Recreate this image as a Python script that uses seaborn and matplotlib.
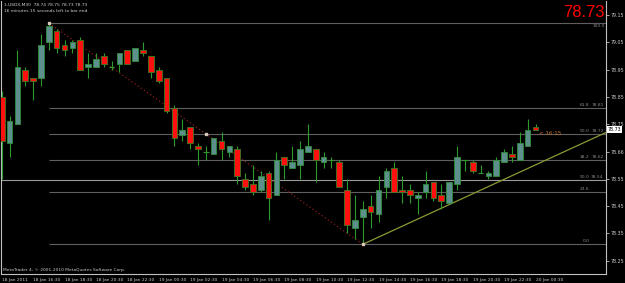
import numpy as np
import pandas as pd
import matplotlib
matplotlib.use("Agg")
import matplotlib.pyplot as plt
import matplotlib.transforms as mtransforms
import seaborn as sns

# ---------------- data ----------------
opens = [78.85, 78.68, 78.75, 78.95, 78.92, 78.92, 79.05, 79.09, 79.04, 79.03,
         79.06, 78.96, 78.96, 79.00, 78.96, 78.97, 79.02, 78.98, 79.02, 79.00,
         78.95, 78.92, 78.81, 78.71, 78.74, 78.67, 78.65, 78.64, 78.69, 78.65,
         78.66, 78.55, 78.53, 78.51, 78.57, 78.49, 78.63, 78.59, 78.60, 78.65,
         78.66, 78.61, 78.62, 78.61, 78.51, 78.37, 78.41, 78.45, 78.42, 78.52,
         78.59, 78.51, 78.51, 78.48, 78.50, 78.54, 78.49, 78.46, 78.53, 78.62,
         78.61, 78.57, 78.56, 78.56, 78.61, 78.64, 78.62, 78.67, 78.74]
highs = [78.87, 78.78, 79.02, 78.96, 78.92, 79.08, 79.12, 79.10, 79.06, 79.06,
         79.07, 79.01, 79.01, 79.01, 78.98, 79.01, 79.02, 79.03, 79.05, 79.00,
         78.96, 78.92, 78.82, 78.77, 78.74, 78.68, 78.67, 78.70, 78.72, 78.67,
         78.67, 78.57, 78.60, 78.58, 78.58, 78.65, 78.63, 78.67, 78.69, 78.75,
         78.66, 78.65, 78.63, 78.62, 78.55, 78.49, 78.47, 78.49, 78.56, 78.59,
         78.61, 78.56, 78.53, 78.50, 78.58, 78.54, 78.53, 78.54, 78.67, 78.62,
         78.62, 78.60, 78.58, 78.63, 78.66, 78.67, 78.72, 78.77, 78.75]
lows = [78.55, 78.63, 78.75, 78.89, 78.84, 78.89, 79.02, 79.01, 79.00, 79.01,
        78.95, 78.92, 78.96, 78.96, 78.95, 78.94, 78.97, 78.98, 79.00, 78.92,
        78.90, 78.79, 78.67, 78.69, 78.66, 78.60, 78.62, 78.64, 78.62, 78.63,
        78.53, 78.51, 78.49, 78.50, 78.40, 78.49, 78.55, 78.59, 78.55, 78.65,
        78.54, 78.59, 78.59, 78.52, 78.35, 78.33, 78.31, 78.37, 78.39, 78.48,
        78.50, 78.46, 78.46, 78.42, 78.48, 78.47, 78.44, 78.46, 78.51, 78.58,
        78.57, 78.57, 78.55, 78.56, 78.61, 78.61, 78.62, 78.67, 78.73]
closes = [78.69, 78.76, 78.96, 78.91, 78.91, 79.04, 79.11, 79.03, 79.02, 79.05,
          78.95, 78.97, 78.99, 78.97, 78.96, 79.01, 78.97, 79.03, 79.01, 78.94,
          78.91, 78.80, 78.70, 78.73, 78.68, 78.66, 78.65, 78.70, 78.66, 78.67,
          78.56, 78.52, 78.50, 78.56, 78.48, 78.62, 78.60, 78.61, 78.66, 78.67,
          78.62, 78.63, 78.62, 78.52, 78.38, 78.40, 78.44, 78.43, 78.51, 78.58,
          78.50, 78.50, 78.49, 78.49, 78.53, 78.48, 78.47, 78.54, 78.63, 78.62,
          78.58, 78.57, 78.57, 78.62, 78.65, 78.63, 78.68, 78.73, 78.73]

x_tick_labels = ["18 Jan 2011", "18 Jan 16:30", "18 Jan 18:30", "18 Jan 20:30",
                 "18 Jan 22:30", "19 Jan 00:30", "19 Jan 02:30", "19 Jan 04:30",
                 "19 Jan 06:30", "19 Jan 08:30", "19 Jan 10:30", "19 Jan 12:30",
                 "19 Jan 14:30", "19 Jan 16:30", "19 Jan 18:30", "19 Jan 20:30",
                 "19 Jan 22:30", "20 Jan 00:30"]
y_ticks = [79.15, 79.05, 78.95, 78.85, 78.75, 78.65, 78.55, 78.45, 78.35, 78.25]
y_tick_labels = ["79.15", "79.05", "78.95", "78.85", "78.75", "78.66",
                 "78.55", "78.45", "78.35", "78.25"]

fib_ratios = [0.0, 23.6, 38.2, 50.0, 61.8, 100.0]
fib_price_text = ["", "", "78.62", "78.72", "78.81", ""]
fib_high, fib_high_idx = 79.12, 6
fib_low, fib_low_idx = 78.31, 46
extra_level, extra_ratio_text, extra_price_text = 78.546, "50.0", "78.54"
trend_idx = [46, 77]
trend_price = [78.31, 78.72]
last_price = "78.73"
title_line1 = "1.USDX,M30  78.74 78.75 78.73 78.73"
title_line2 = "16 minutes 15 seconds left to bar end"
countdown = "< 16:15"
copyright_txt = "MetaTrader 4, \u00a9 2001-2010 MetaQuotes Software Corp."

# ---------------- style ----------------
sns.set_theme(style="dark", rc={
    "axes.facecolor": "black", "figure.facecolor": "black",
    "axes.edgecolor": "#c0c0c0", "axes.grid": False,
    "xtick.color": "#c0c0c0", "ytick.color": "#c0c0c0",
})
plt.rcParams["font.family"] = ["Liberation Sans Narrow", "DejaVu Sans"]

W, H = 625, 283
fig = plt.figure(figsize=(W / 100, H / 100), dpi=100)
ax = fig.add_axes([1 / W, 9 / H, 605 / W, 273 / H])
ax.set_facecolor("black")

df = pd.DataFrame({"idx": np.arange(len(opens)), "open": opens, "high": highs,
                   "low": lows, "close": closes})

wick_col = "#2c9a2c"
bull_face = "#5d8f8c"
bull_edge = "#2f8f3a"
bear_face = "#ff1010"
bear_edge = "#3d7a22"
bw = 0.72

# wicks
ax.vlines(df["idx"], df["low"], df["high"], color=wick_col, lw=0.8, zorder=3)
for _, r in df.iterrows():
    o, c = r["open"], r["close"]
    if abs(c - o) < 0.004:
        ax.hlines(o, r["idx"] - bw / 2, r["idx"] + bw / 2, color=wick_col, lw=0.8, zorder=4)
    elif c > o:
        ax.bar(r["idx"], c - o, bottom=o, width=bw, color=bull_face,
               edgecolor=bull_edge, linewidth=0.6, zorder=4)
    else:
        ax.bar(r["idx"], o - c, bottom=c, width=bw, color=bear_face,
               edgecolor=bear_edge, linewidth=0.6, zorder=4)

x0, x1 = -0.09, 76.98
ax.set_xlim(x0, x1)
ax.set_ylim(78.2013, 79.2013)

# fibonacci levels
blend = mtransforms.blended_transform_factory(ax.transAxes, ax.transData)
rng = fib_high - fib_low
fs_small = 3.2
for r, pt in zip(fib_ratios, fib_price_text):
    lvl = fib_low + r / 100 * rng
    ax.hlines(lvl, fib_high_idx, x1, color="#5f5f5f", lw=0.8, zorder=2)
    if r == 100.0:
        ax.text(0.998, lvl - 0.002, f"{r:.1f}", transform=blend, ha="right",
                va="top", fontsize=fs_small, color="#8a8a8a", zorder=5)
        continue
    ax.text(0.973, lvl + 0.004, f"{r:.1f}", transform=blend, ha="right",
            va="bottom", fontsize=fs_small, color="#8a8a8a", zorder=5)
    if pt:
        ax.text(0.996, lvl + 0.004, pt, transform=blend, ha="right",
                va="bottom", fontsize=fs_small, color="#8a8a8a", zorder=5)
ax.axhline(extra_level, color="#9a9a9a", lw=0.8, zorder=2)
ax.text(0.973, extra_level + 0.004, extra_ratio_text, transform=blend, ha="right",
        va="bottom", fontsize=fs_small, color="#8a8a8a", zorder=5)
ax.text(0.996, extra_level + 0.004, extra_price_text, transform=blend, ha="right",
        va="bottom", fontsize=fs_small, color="#8a8a8a", zorder=5)

# fib trend (dotted dark red) and anchors
ax.plot([fib_high_idx, fib_low_idx], [fib_high, fib_low], color="#8b1a1a",
        ls=(0, (1, 2)), lw=0.9, zorder=2)
ax.plot([fib_high_idx, (fib_high_idx + fib_low_idx) / 2, fib_low_idx],
        [fib_high, (fib_high + fib_low) / 2, fib_low], ls="none", marker="s",
        ms=1.6, color="#d8c8b8", zorder=6)

# trend line
sns.lineplot(x=trend_idx, y=trend_price, ax=ax, color="#8c9a34", lw=0.9, zorder=2)

# axes / ticks
ax.spines["top"].set_visible(False)
for s in ("left", "right", "bottom"):
    ax.spines[s].set_color("#c0c0c0")
    ax.spines[s].set_linewidth(0.8)
ax.yaxis.tick_right()
ax.set_yticks(y_ticks)
ax.set_yticklabels(y_tick_labels)
ax.set_xticks(np.arange(0, len(opens), 4))
ax.set_xticklabels(x_tick_labels)
for lbl in ax.get_xticklabels():
    lbl.set_ha("left")
ax.tick_params(axis="x", length=2, width=0.6, labelsize=3.15, labelcolor="#c8c8c8", pad=0.6)
ax.tick_params(axis="y", length=2, width=0.6, labelsize=3.4, labelcolor="#c8c8c8", pad=1.2)
ax.set_xlabel("")
ax.set_ylabel("")

# current price box
ax.text(1.003, float(last_price), last_price, transform=blend, ha="left", va="center",
        fontsize=3.4, color="black", zorder=7,
        bbox=dict(boxstyle="square,pad=0.15", fc="white", ec="white", lw=0))

# countdown
ax.text(68.4, 78.716, countdown, ha="left", va="center", fontsize=4.0,
        color="#c8782c", zorder=6)

# texts
fig.text(4 / W, 1 - 3 / H, title_line1, ha="left", va="top", fontsize=3.2, color="#d0d0d0")
fig.text(4 / W, 1 - 9 / H, title_line2, ha="left", va="top", fontsize=3.2, color="#d0d0d0")
fig.text(3 / W, 1 - 272 / H, copyright_txt, ha="left", va="bottom", fontsize=3.2, color="#c8c8c8")
fig.text(605 / W, 1 - 5 / H, last_price, ha="right", va="top", fontsize=12,
         color="#ff0000", family=["Liberation Sans", "DejaVu Sans"])

fig.savefig("out.png", dpi=100, facecolor="black")
